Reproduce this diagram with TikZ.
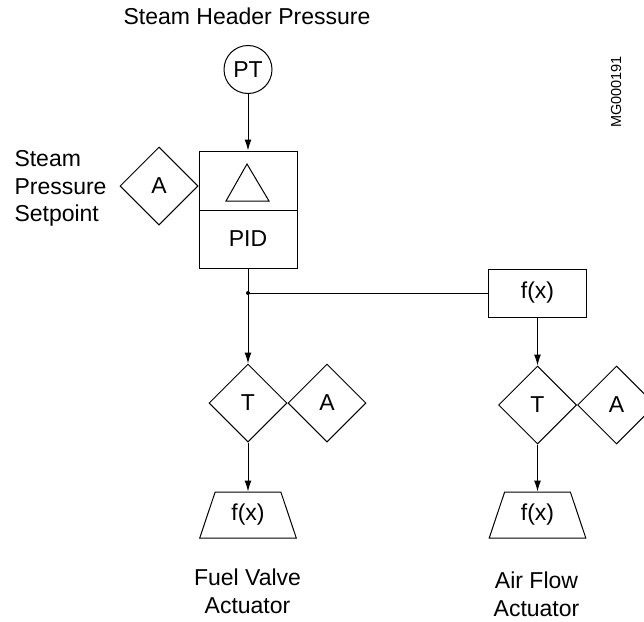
\documentclass[tikz,border=0pt]{standalone}
\usepackage{fontspec}
\setmainfont{Liberation Sans}
\usetikzlibrary{shapes.geometric,arrows.meta}

\begin{document}
\begin{tikzpicture}[
        x=1pt, y=-1pt,
        font=\fontsize{23}{27.5}\selectfont,
        every path/.style={line width=1pt},
        bloque/.style={draw, inner sep=0pt, minimum width=98pt},
        rombo/.style={draw, diamond, inner sep=0pt, minimum width=78pt, minimum height=78pt},
        trapecio/.style={draw, trapezium, trapezium left angle=70, trapezium right angle=70,
        trapezium stretches=true, inner sep=0pt, minimum width=97pt, minimum height=46pt},
        sensor/.style={draw, circle, inner sep=0pt, minimum size=48pt},
        flecha/.style={-{Latex[length=11pt,width=7pt]}}
    ]
        \useasboundingbox (0,0) rectangle (644,621);
        % medicion y controlador
        \node[anchor=base] (titulo) at (247,24) {Steam Header Pressure};
        \node[sensor] (pt) at (248,69.5) {PT};
        \node[bloque, minimum height=59pt] (delta) at (248,180.5) {};
        \node[bloque, minimum height=58pt] (pid) at (248,239) {PID};
        \draw ([shift={(-1,-16.5)}]delta.center) -- ([shift={(-22,20.5)}]delta.center)
            -- ([shift={(21,20.5)}]delta.center) -- cycle;
        \node[rombo] (sp) at (159,186) {A};
        \node[align=left, anchor=west, inner sep=0pt] (sptxt) at (14,188.5) {Steam\\Pressure\\Setpoint};
        \coordinate (nudo) at (248,293);
        \node[bloque, minimum height=48pt] (fx1) at (537.5,293) {f(x)};
        % rama del combustible
        \node[rombo] (t1) at (248,403) {T};
        \node[rombo] (a1) at (t1.east) [anchor=west] {A};
        \node[trapecio] (fx2) at (248,515) {f(x)};
        \node[align=center, anchor=base] (fuel) at (247.5,613) {Fuel Valve\\Actuator};
        % rama del aire
        \node[rombo] (t2) at (537.5,405) {T};
        \node[rombo] (a2) at (t2.east) [anchor=west] {A};
        \node[trapecio] (fx3) at (537.5,515) {f(x)};
        \node[align=center, anchor=base] (aire) at (536.5,616) {Air Flow\\Actuator};
        \node[rotate=90, font=\fontsize{14.5}{16}\selectfont] (codigo) at (616,92) {MG000191};
        \draw[flecha] (pt) -- (delta);
        \draw (pid) -- (nudo);
        \fill (nudo) circle (2);
        \draw (nudo) -- (fx1);
        \draw[flecha] (nudo) -- (t1);
        \draw[flecha] (t1) -- (fx2);
        \draw[flecha] (fx1) -- (t2);
        \draw[flecha] (t2) -- (fx3);
    \end{tikzpicture}
\end{document}
